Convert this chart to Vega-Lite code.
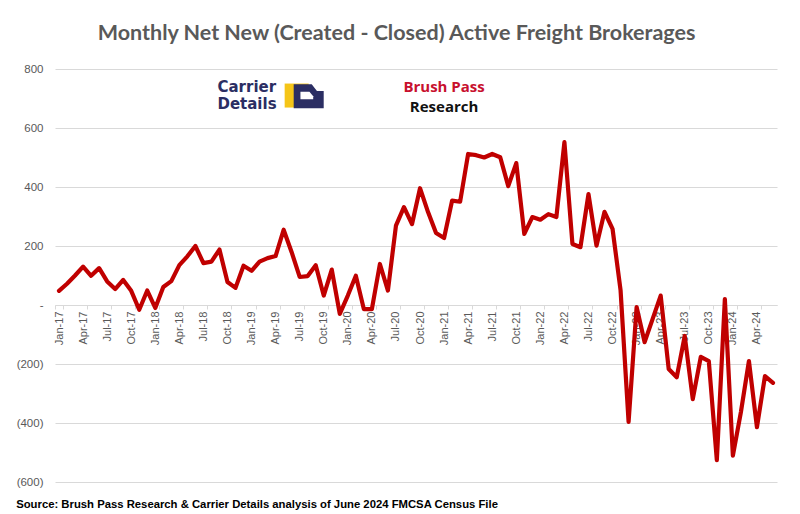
{
  "$schema": "https://vega.github.io/schema/vega-lite/v6.json",
  "background": "white",
  "padding": {"left": 16, "right": 1, "top": 22, "bottom": 2},
  "title": {"text": "Source: Brush Pass Research & Carrier Details analysis of June 2024 FMCSA Census File", "orient": "bottom", "anchor": "start", "frame": "bounds", "font": "Liberation Sans", "fontSize": 11.3, "fontWeight": "bold", "color": "#000000", "offset": 11},
  "config": {"view": {"stroke": null}, "font": "Liberation Sans"},
  "datasets": {
    "net": [
      {"month": "Jan-17", "value": 48}, {"month": "Feb-17", "value": 72}, {"month": "Mar-17", "value": 100}, {"month": "Apr-17", "value": 130}, {"month": "May-17", "value": 99}, {"month": "Jun-17", "value": 125}, {"month": "Jul-17", "value": 80}, {"month": "Aug-17", "value": 54}, {"month": "Sep-17", "value": 85}, {"month": "Oct-17", "value": 48}, {"month": "Nov-17", "value": -16}, {"month": "Dec-17", "value": 49},
      {"month": "Jan-18", "value": -10}, {"month": "Feb-18", "value": 61}, {"month": "Mar-18", "value": 81}, {"month": "Apr-18", "value": 135}, {"month": "May-18", "value": 165}, {"month": "Jun-18", "value": 200}, {"month": "Jul-18", "value": 142}, {"month": "Aug-18", "value": 147}, {"month": "Sep-18", "value": 188}, {"month": "Oct-18", "value": 78}, {"month": "Nov-18", "value": 58}, {"month": "Dec-18", "value": 133},
      {"month": "Jan-19", "value": 116}, {"month": "Feb-19", "value": 147}, {"month": "Mar-19", "value": 159}, {"month": "Apr-19", "value": 166}, {"month": "May-19", "value": 255}, {"month": "Jun-19", "value": 179}, {"month": "Jul-19", "value": 95}, {"month": "Aug-19", "value": 98}, {"month": "Sep-19", "value": 135}, {"month": "Oct-19", "value": 32}, {"month": "Nov-19", "value": 120}, {"month": "Dec-19", "value": -30},
      {"month": "Jan-20", "value": 32}, {"month": "Feb-20", "value": 99}, {"month": "Mar-20", "value": -14}, {"month": "Apr-20", "value": -14}, {"month": "May-20", "value": 139}, {"month": "Jun-20", "value": 49}, {"month": "Jul-20", "value": 269}, {"month": "Aug-20", "value": 332}, {"month": "Sep-20", "value": 274}, {"month": "Oct-20", "value": 396}, {"month": "Nov-20", "value": 315}, {"month": "Dec-20", "value": 244},
      {"month": "Jan-21", "value": 227}, {"month": "Feb-21", "value": 354}, {"month": "Mar-21", "value": 350}, {"month": "Apr-21", "value": 512}, {"month": "May-21", "value": 508}, {"month": "Jun-21", "value": 500}, {"month": "Jul-21", "value": 512}, {"month": "Aug-21", "value": 501}, {"month": "Sep-21", "value": 403}, {"month": "Oct-21", "value": 481}, {"month": "Nov-21", "value": 241}, {"month": "Dec-21", "value": 298},
      {"month": "Jan-22", "value": 289}, {"month": "Feb-22", "value": 308}, {"month": "Mar-22", "value": 298}, {"month": "Apr-22", "value": 552}, {"month": "May-22", "value": 207}, {"month": "Jun-22", "value": 196}, {"month": "Jul-22", "value": 376}, {"month": "Aug-22", "value": 201}, {"month": "Sep-22", "value": 316}, {"month": "Oct-22", "value": 258}, {"month": "Nov-22", "value": 50}, {"month": "Dec-22", "value": -396},
      {"month": "Jan-23", "value": -7}, {"month": "Feb-23", "value": -126}, {"month": "Mar-23", "value": -47}, {"month": "Apr-23", "value": 32}, {"month": "May-23", "value": -217}, {"month": "Jun-23", "value": -245}, {"month": "Jul-23", "value": -105}, {"month": "Aug-23", "value": -319}, {"month": "Sep-23", "value": -176}, {"month": "Oct-23", "value": -190}, {"month": "Nov-23", "value": -526}, {"month": "Dec-23", "value": 20},
      {"month": "Jan-24", "value": -511}, {"month": "Feb-24", "value": -363}, {"month": "Mar-24", "value": -190}, {"month": "Apr-24", "value": -414}, {"month": "May-24", "value": -241}, {"month": "Jun-24", "value": -264}
    ]
  },
  "vconcat": [
    {
      "title": {"text": "Monthly Net New (Created - Closed) Active Freight Brokerages", "frame": "bounds", "font": "Lato", "fontSize": 21.5, "fontWeight": "bold", "color": "#595959", "anchor": "middle", "offset": 19},
      "width": 722,
      "height": 413,
      "data": {"name": "net"},
      "layer": [
        {
          "mark": {"type": "line", "color": "#c00000", "strokeWidth": 4.2, "strokeJoin": "round", "strokeCap": "round"},
          "encoding": {
            "x": {
              "field": "month", "type": "ordinal", "sort": null,
              "scale": {"type": "band", "paddingInner": 0, "paddingOuter": 0},
              "axis": {
                "orient": "bottom", "offset": -177, "title": null, "grid": false,
                "values": ["Jan-17","Apr-17","Jul-17","Oct-17","Jan-18","Apr-18","Jul-18","Oct-18","Jan-19","Apr-19","Jul-19","Oct-19","Jan-20","Apr-20","Jul-20","Oct-20","Jan-21","Apr-21","Jul-21","Oct-21","Jan-22","Apr-22","Jul-22","Oct-22","Jan-23","Apr-23","Jul-23","Oct-23","Jan-24","Apr-24"],
                "tickBand": "extent", "labelAngle": -90, "labelFontSize": 11, "labelColor": "#595959",
                "domainColor": "#d9d9d9", "tickColor": "#d9d9d9", "tickSize": 4, "labelPadding": 2
              }
            },
            "y": {
              "field": "value", "type": "quantitative",
              "scale": {"domain": [-600, 800], "nice": false, "zero": false},
              "axis": {
                "title": null, "values": [-600, -400, -200, 0, 200, 400, 600, 800],
                "domain": false, "ticks": false, "labelPadding": 12, "labelFontSize": 11.5, "labelColor": "#595959",
                "gridColor": "#d9d9d9",
                "labelExpr": "datum.value == 0 ? '-\u00a0\u00a0\u00a0' : (datum.value < 0 ? '(' + format(-datum.value, ',') + ')' : format(datum.value, ','))"
              }
            }
          }
        },
        {
          "data": {"values": [{}]},
          "mark": {"type": "point", "shape": "square", "filled": true, "color": "#f5c518", "opacity": 1, "size": 576, "xOffset": 5},
          "encoding": {"x": {"datum": "Jun-19", "type": "ordinal"}, "y": {"datum": 710, "type": "quantitative"}}
        },
        {
          "data": {"values": [{}]},
          "mark": {"type": "point", "shape": "M-1,-0.8 L0.2,-0.8 L0.55,-0.35 L1,-0.35 L1,0.8 L-1,0.8 Z", "filled": true, "color": "#2b2e63", "opacity": 1, "size": 900, "xOffset": 1},
          "encoding": {"x": {"datum": "Aug-19", "type": "ordinal"}, "y": {"datum": 708, "type": "quantitative"}}
        },
        {
          "data": {"values": [{}]},
          "mark": {"type": "point", "shape": "M-0.55,-0.3 L0.05,-0.3 L0.3,0.0 L0.3,0.2 L-0.55,0.2 Z", "filled": true, "color": "#ffffff", "opacity": 1, "size": 900, "xOffset": 1},
          "encoding": {"x": {"datum": "Aug-19", "type": "ordinal"}, "y": {"datum": 708, "type": "quantitative"}}
        },
        {
          "data": {"values": [{}]},
          "mark": {"type": "text", "text": "Carrier", "align": "left", "baseline": "middle", "dx": -2, "font": "DejaVu Sans", "fontWeight": "bold", "fontSize": 15, "color": "#2b2e63"},
          "encoding": {"x": {"datum": "Sep-18", "type": "ordinal"}, "y": {"datum": 738, "type": "quantitative"}}
        },
        {
          "data": {"values": [{}]},
          "mark": {"type": "text", "text": "Details", "align": "left", "baseline": "middle", "dx": -2, "font": "DejaVu Sans", "fontWeight": "bold", "fontSize": 15, "color": "#2b2e63"},
          "encoding": {"x": {"datum": "Sep-18", "type": "ordinal"}, "y": {"datum": 683, "type": "quantitative"}}
        },
        {
          "data": {"values": [{}]},
          "mark": {"type": "text", "text": "Brush Pass", "align": "center", "baseline": "middle", "dx": 0, "font": "Open Sans", "fontWeight": "bold", "fontSize": 15, "color": "#c8102e"},
          "encoding": {"x": {"datum": "Jan-21", "type": "ordinal"}, "y": {"datum": 738, "type": "quantitative"}}
        },
        {
          "data": {"values": [{}]},
          "mark": {"type": "text", "text": "Research", "align": "center", "baseline": "middle", "dx": 0, "font": "Open Sans", "fontWeight": "bold", "fontSize": 15, "color": "#111111"},
          "encoding": {"x": {"datum": "Jan-21", "type": "ordinal"}, "y": {"datum": 671, "type": "quantitative"}}
        }
      ]
    }
  ]
}
